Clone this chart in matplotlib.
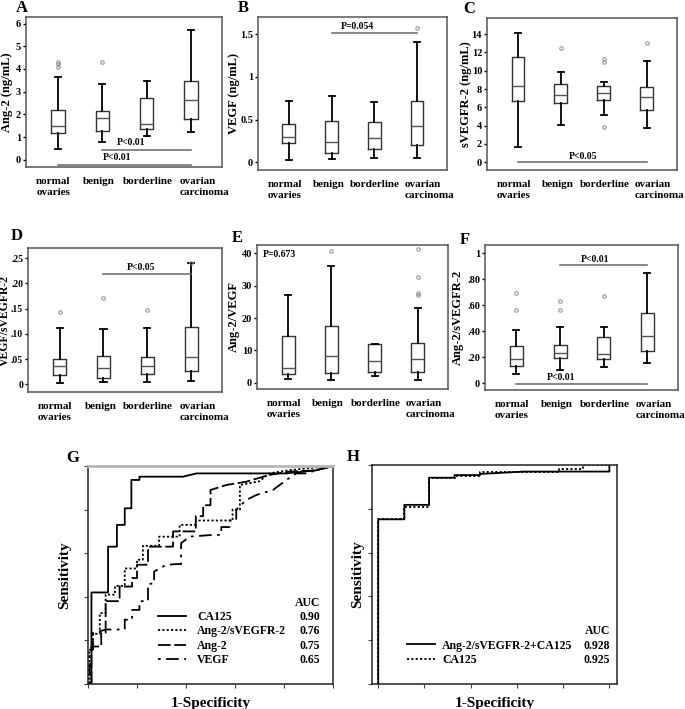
import numpy as np
import matplotlib.pyplot as plt

plt.rcParams["font.family"] = "Liberation Serif"
plt.rcParams["font.weight"] = "bold"
plt.rcParams["axes.labelweight"] = "bold"

groups = ["normal\novaries", "benign", "borderline", "ovarian\ncarcinoma"]
box_pos = [1, 2, 3, 4]
label_pos = [0.9, 1.93, 3.02, 4.3]

# box summaries: whisker low, q1, median, q3, whisker high, outliers
ang2_lo = [0.47, 0.79, 1.06, 1.23]
ang2_q1 = [1.16, 1.28, 1.35, 1.79]
ang2_med = [1.50, 1.84, 1.57, 2.63]
ang2_q3 = [2.19, 2.13, 2.74, 3.45]
ang2_hi = [3.63, 3.33, 3.48, 5.71]
ang2_out = [[4.1, 4.2, 4.3], [4.3], [], []]

vegf_lo = [0.027, 0.035, 0.05, 0.047]
vegf_q1 = [0.23, 0.105, 0.16, 0.20]
vegf_med = [0.30, 0.236, 0.28, 0.43]
vegf_q3 = [0.45, 0.48, 0.47, 0.716]
vegf_hi = [0.716, 0.77, 0.70, 1.41]
vegf_out = [[], [], [], [1.57]]

svegfr_lo = [1.67, 4.05, 5.2, 3.7]
svegfr_q1 = [6.67, 6.45, 6.8, 5.7]
svegfr_med = [8.35, 7.3, 7.55, 7.1]
svegfr_q3 = [11.5, 8.5, 8.35, 8.2]
svegfr_hi = [14.1, 9.9, 8.8, 11.1]
svegfr_out = [[], [12.5], [11.0, 11.25, 3.85], [13.0]]

vr_lo = [0.003, 0.005, 0.005, 0.006]
vr_q1 = [0.019, 0.013, 0.021, 0.026]
vr_med = [0.036, 0.033, 0.036, 0.054]
vr_q3 = [0.051, 0.056, 0.054, 0.113]
vr_hi = [0.111, 0.110, 0.111, 0.240]
vr_out = [[0.143], [0.172], [0.148], [0.241]]

av_lo = [1.3, 1.0, 2.1, 1.0]
av_q1 = [2.6, 3.1, 3.4, 3.4]
av_med = [4.6, 8.2, 6.7, 7.3]
av_q3 = [14.4, 17.5, 12.0, 12.4]
av_hi = [27.3, 36.2, 12.0, 23.0]
av_out = [[], [40.7], [], [41.3, 32.6, 27.9, 27.1]]

as_lo = [0.072, 0.103, 0.128, 0.154]
as_q1 = [0.134, 0.193, 0.185, 0.252]
as_med = [0.185, 0.231, 0.224, 0.368]
as_q3 = [0.29, 0.296, 0.36, 0.54]
as_hi = [0.41, 0.43, 0.43, 0.848]
as_out = [[0.566, 0.694], [0.566, 0.635], [0.671], []]

# significance bars: (from, to, y, text, text x, text y)
ang2_sig = [(2, 4, 0.44, "P<0.01", 2.64, 0.75), (1, 4, -0.22, "P<0.01", 2.33, 0.08)]
vegf_sig = [(2, 4, 1.51, "P=0.054", 2.61, 1.59)]
svegfr_sig = [(1, 4, 0.07, "P<0.05", 2.51, 0.65)]
vr_sig = [(2, 4, 0.219, "P<0.05", 2.86, 0.231)]
as_sig = [(2, 4, 0.907, "P<0.01", 2.79, 0.955), (1, 4, -0.005, "P<0.01", 2.03, 0.045)]

# ROC curves (1-specificity, sensitivity)
g_ca125_x = [0, 0.014, 0.014, 0.082, 0.082, 0.118, 0.118, 0.15, 0.15, 0.177, 0.177, 0.21, 0.21, 0.388, 0.442, 0.81, 0.93, 0.96, 1.0]
g_ca125_y = [0, 0, 0.42, 0.42, 0.63, 0.63, 0.73, 0.73, 0.806, 0.806, 0.936, 0.936, 0.951, 0.951, 0.966, 0.966, 0.98, 0.99, 1.0]
g_ratio_x = [0.004, 0.004, 0.02, 0.02, 0.048, 0.048, 0.072, 0.072, 0.11, 0.11, 0.15, 0.15, 0.2, 0.2, 0.224, 0.224, 0.29, 0.29,
             0.374, 0.374, 0.44, 0.44, 0.59, 0.59, 0.62, 0.62, 0.70, 0.74, 0.816, 0.9, 1.0]
g_ratio_y = [0, 0.157, 0.157, 0.23, 0.23, 0.325, 0.325, 0.41, 0.41, 0.45, 0.45, 0.53, 0.53, 0.57, 0.57, 0.634, 0.634, 0.676,
             0.676, 0.73, 0.73, 0.75, 0.75, 0.80, 0.80, 0.913, 0.93, 0.966, 0.98, 0.99, 1.0]
g_ang2_x = [0.014, 0.014, 0.054, 0.054, 0.072, 0.072, 0.129, 0.129, 0.18, 0.18, 0.2, 0.2, 0.245, 0.245, 0.347, 0.347, 0.44, 0.44,
            0.47, 0.47, 0.5, 0.5, 0.565, 0.646, 0.74, 0.82, 0.93, 1.0]
g_ang2_y = [0, 0.172, 0.172, 0.234, 0.234, 0.38, 0.38, 0.447, 0.447, 0.486, 0.486, 0.547, 0.547, 0.63, 0.63, 0.70, 0.70, 0.77,
            0.77, 0.82, 0.82, 0.89, 0.913, 0.928, 0.959, 0.974, 0.98, 1.0]
g_vegf_x = [0.007, 0.007, 0.02, 0.02, 0.075, 0.122, 0.15, 0.15, 0.18, 0.18, 0.21, 0.21, 0.245, 0.245, 0.27, 0.27, 0.32, 0.36,
            0.38, 0.38, 0.415, 0.51, 0.544, 0.544, 0.578, 0.578, 0.605, 0.605, 0.646, 0.687, 0.755, 0.81, 0.85, 0.89, 0.93, 1.0]
g_vegf_y = [0, 0.157, 0.157, 0.234, 0.25, 0.25, 0.25, 0.295, 0.295, 0.34, 0.34, 0.38, 0.38, 0.46, 0.46, 0.516, 0.547, 0.55,
            0.55, 0.646, 0.676, 0.684, 0.684, 0.72, 0.72, 0.75, 0.75, 0.80, 0.844, 0.867, 0.89, 0.936, 0.966, 0.966, 0.98, 1.0]
g_names = ["CA125", "Ang-2/sVEGFR-2", "Ang-2", "VEGF"]
g_auc = ["0.90", "0.76", "0.75", "0.65"]

h_comb_x = [0, 0, 0.113, 0.113, 0.22, 0.22, 0.33, 0.33, 0.44, 0.44, 0.63, 1.0, 1.0]
h_comb_y = [0, 0.752, 0.752, 0.818, 0.818, 0.942, 0.942, 0.954, 0.954, 0.959, 0.97, 0.97, 1.0]
h_ca125_x = [0, 0, 0.113, 0.113, 0.22, 0.22, 0.33, 0.33, 0.44, 0.44, 0.78, 0.78, 0.887, 0.887, 1.0]
h_ca125_y = [0, 0.752, 0.752, 0.807, 0.807, 0.94, 0.94, 0.95, 0.95, 0.966, 0.966, 0.98, 0.98, 1.0, 1.0]
h_names = ["Ang-2/sVEGFR-2+CA125", "CA125"]
h_auc = ["0.928", "0.925"]

W, H = 685, 709
fig = plt.figure(figsize=(W / 100, H / 100), dpi=100)


def px_axes(x0, y0, x1, y1):
    return fig.add_axes([x0 / W, 1 - y1 / H, (x1 - x0) / W, (y1 - y0) / H])


def stats(lo, q1, med, q3, hi, out):
    return [dict(whislo=a, q1=b, med=c, q3=d, whishi=e, fliers=f)
            for a, b, c, d, e, f in zip(lo, q1, med, q3, hi, out)]


# letter, axes box (px), stats, y label, label right edge (px), label size, yticks, yticklabels, tick size,
# ylim, sig bars, letter pos
box_panels = [
    ("A", (26, 17, 222, 167), stats(ang2_lo, ang2_q1, ang2_med, ang2_q3, ang2_hi, ang2_out), "Ang-2 (ng/mL)", 13, 9,
     [0, 1, 2, 3, 4, 5, 6], None, 7.5, (-0.32, 6.29), ang2_sig, (22, 8)),
    ("B", (258, 17, 447, 170), stats(vegf_lo, vegf_q1, vegf_med, vegf_q3, vegf_hi, vegf_out), "VEGF (ng/mL)", 240, 9,
     [0, 0.5, 1, 1.5], ["0", "0.5", "1", "1.5"], 7.5, (-0.09, 1.70), vegf_sig, (243, 8)),
    ("C", (487, 18, 677, 170), stats(svegfr_lo, svegfr_q1, svegfr_med, svegfr_q3, svegfr_hi, svegfr_out),
     "sVEGFR-2 (ng/mL)", 472, 9, [0, 2, 4, 6, 8, 10, 12, 14], None, 7.5, (-0.84, 15.75), svegfr_sig, (469, 9)),
    ("D", (28, 248, 222, 392), stats(vr_lo, vr_q1, vr_med, vr_q3, vr_hi, vr_out), "VEGF/sVEGFR-2", 10.6, 8.5,
     [0, 0.05, 0.10, 0.15, 0.20, 0.25], ["0", ".05", ".10", ".15", ".20", ".25"], 7, (-0.015, 0.27), vr_sig, (17, 236)),
    ("E", (257, 245, 448, 389), stats(av_lo, av_q1, av_med, av_q3, av_hi, av_out), "Ang-2/VEGF", 240, 9,
     [0, 10, 20, 30, 40], None, 7.5, (-1.9, 42.6), [], (237, 238)),
    ("F", (485, 245, 678, 390), stats(as_lo, as_q1, as_med, as_q3, as_hi, as_out), "Ang-2/sVEGFR-2", 464, 9,
     [0, 0.2, 0.4, 0.6, 0.8, 1.0], ["0", ".20", ".40", ".60", ".80", "1"], 7.5, (-0.051, 1.064), as_sig, (465, 240)),
]

for letter, rect, st, ylab, ylab_x, ylab_fs, yt, ytl, tick_fs, ylim, sig, lpos in box_panels:
    ax = px_axes(*rect)
    ax.bxp(st, positions=box_pos, widths=0.3, capwidths=0.14, manage_ticks=False,
           boxprops=dict(color="#333333", lw=1.0),
           medianprops=dict(color="#555555", lw=1.0),
           whiskerprops=dict(color="black", lw=1.3),
           capprops=dict(color="black", lw=1.3),
           flierprops=dict(marker="o", markersize=2.5, markerfacecolor="none",
                           markeredgecolor="#888888", markeredgewidth=0.7))
    ax.set_xlim(0.28, 4.7)
    ax.set_ylim(*ylim)
    ax.set_yticks(yt)
    if ytl is not None:
        ax.set_yticklabels(ytl)
    ax.set_xticks(label_pos)
    ax.set_xticklabels(groups, multialignment="left", linespacing=1.3)
    ax.tick_params(axis="x", length=0, labelsize=8, pad=7)
    ax.tick_params(axis="y", length=2.5, width=1, labelsize=tick_fs, pad=1)
    for s in ax.spines.values():
        s.set_color("#555555")
        s.set_linewidth(1.1)
    ax.set_ylabel(ylab, fontsize=ylab_fs)
    ax.yaxis.set_label_coords((ylab_x - rect[0]) / (rect[2] - rect[0]), 0.5)
    for x1, x2, y, txt, tx, ty in sig:
        ax.plot([x1, x2], [y, y], color="#666666", lw=1.1)
        ax.text(tx, ty, txt, ha="center", va="center", fontsize=7)
    if letter == "E":
        ax.text(0.03, 0.965, "P=0.673", transform=ax.transAxes, ha="left", va="top", fontsize=7)
    fig.text(lpos[0] / W, 1 - lpos[1] / H, letter, ha="center", va="center", fontsize=12)


def roc_axes(rect, xlim, ylab_x):
    ax = px_axes(*rect)
    ax.set_xlim(*xlim)
    ax.set_ylim(0, 1)
    ax.set_xticks(np.linspace(0, 1, 6))
    ax.set_yticks(np.linspace(0, 1, 6))
    ax.tick_params(length=3, width=0.8, labelbottom=False, labelleft=False, color="#444444")
    for s in ax.spines.values():
        s.set_color("#222222")
        s.set_linewidth(1.1)
    ax.set_ylabel("Sensitivity", fontsize=11)
    ax.yaxis.set_label_coords((ylab_x - rect[0]) / (rect[2] - rect[0]), 0.5)
    ax.set_xlabel("1-Specificity", fontsize=11, labelpad=6)
    return ax


def auc_column(ax, leg, aucs, x, header_y):
    fig.canvas.draw()
    inv = ax.transAxes.inverted()
    for t, a in zip(leg.get_texts(), aucs):
        bb = t.get_window_extent()
        y = inv.transform((0, (bb.y0 + bb.y1) / 2))[1]
        ax.text(x, y, a, transform=ax.transAxes, ha="right", va="center", fontsize=8.5)
    ax.text(x, header_y, "AUC", transform=ax.transAxes, ha="right", va="center", fontsize=8.5)


axg = roc_axes((88, 466, 333, 684), (0, 1), 71)
axg.spines["top"].set_color("#b5b5b5")
axg.spines["top"].set_linewidth(2)
lg = [
    axg.plot(g_ca125_x, g_ca125_y, color="black", lw=1.3, ls="-")[0],
    axg.plot(g_ratio_x, g_ratio_y, color="black", lw=1.3, ls=(0, (1.2, 1.2)))[0],
    axg.plot(g_ang2_x, g_ang2_y, color="black", lw=1.3, ls=(0, (7, 2)))[0],
    axg.plot(g_vegf_x, g_vegf_y, color="black", lw=1.3, ls=(0, (1.5, 3, 7, 3)))[0],
]
leg_g = axg.legend(lg, g_names, loc="upper left", bbox_to_anchor=(0.286, 0.335), frameon=False,
                   fontsize=8.5, handlelength=2.4, handletextpad=0.9, labelspacing=0.2,
                   borderpad=0, borderaxespad=0)
fig.text(73 / W, 1 - 458 / H, "G", ha="center", va="center", fontsize=12)

axh = roc_axes((372, 465, 617, 684), (-0.027, 1.033), 364)
lh = [
    axh.plot(h_comb_x, h_comb_y, color="black", lw=1.3, ls="-")[0],
    axh.plot(h_ca125_x, h_ca125_y, color="black", lw=1.3, ls=(0, (1.2, 1.2)))[0],
]
leg_h = axh.legend(lh, h_names, loc="upper left", bbox_to_anchor=(0.142, 0.203), frameon=False,
                   fontsize=8.5, handlelength=2.4, handletextpad=0.6, labelspacing=0.2,
                   borderpad=0, borderaxespad=0)
fig.text(353 / W, 1 - 457 / H, "H", ha="center", va="center", fontsize=12)

auc_column(axg, leg_g, g_auc, 0.947, 0.373)
auc_column(axh, leg_h, h_auc, 0.971, 0.243)

fig.savefig("out.png", dpi=100)
